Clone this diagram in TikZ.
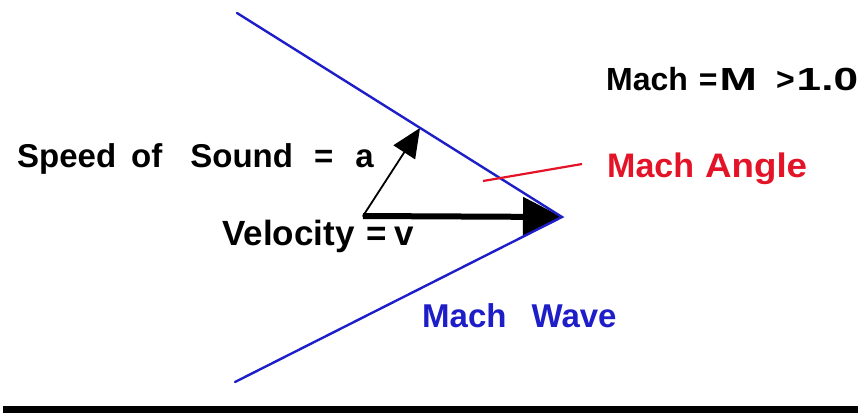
\documentclass[tikz,border=0pt]{standalone}
\usepackage{fontspec}
\usepackage{graphicx}
\setmainfont{Liberation Sans}
\usetikzlibrary{arrows.meta}
\definecolor{wavecol}{RGB}{30,30,200}
\definecolor{anglecol}{RGB}{228,20,40}
\begin{document}
\begin{tikzpicture}[x=1pt,y=-1pt,
  lbl/.style={anchor=base west,inner sep=0pt,font=\bfseries\fontsize{33}{36}\selectfont},
  wave/.style={wavecol,line width=2.4pt,line cap=round},
  velarrow/.style={black,line width=6pt,-{Triangle[length=39pt,width=40pt,line width=0pt]}},
  sndarrow/.style={black,line width=1.8pt,line cap=round,-{Triangle[length=29pt,width=26pt,line width=0pt]}},
  angleline/.style={anglecol,line width=2.2pt}]
\useasboundingbox (0,0) rectangle (858,413);
\fill[white] (0,0) rectangle (858,413);
% coordinates
\coordinate (O) at (363,216);
\coordinate (V) at (562,217);
\coordinate (A) at (420,128);
\coordinate (W1) at (237,13);
\coordinate (W2) at (235,382);
\coordinate (R1) at (483,181);
\coordinate (R2) at (582,164);
% vectors
\draw[velarrow] (O) -- (V);
\draw[sndarrow] (O) -- (A);
% mach wave
\draw[wave] (W1) -- (V) -- (W2);
% mach angle pointer
\draw[angleline] (R1) -- (R2);
% labels
\node[lbl] (speed) at (17,167) {Speed\hspace{15pt}of\hspace{28pt}Sound\hspace{21pt}=\hspace{22pt}a};
\node[lbl,font=\bfseries\fontsize{35}{38}\selectfont] (vel) at (222,245) {Velocity\hspace{12pt}=\hspace{8pt}v};
\node[lbl,font=\bfseries\fontsize{32}{36}\selectfont] (mach) at (606,90) {Mach\hspace{11pt}=\hspace{2pt}\scalebox{1.4}[1]{M}\hspace{19pt}>\hspace{2pt}\scalebox{1.38}[1]{1.0}};
\node[lbl,anglecol,font=\bfseries\fontsize{34}{36}\selectfont] (angle) at (607,177) {Mach\hspace{11pt}\scalebox{1.08}[1]{Angle}};
\node[lbl,wavecol] (wavelbl) at (422,327) {Mach\hspace{25pt}Wave};
% bottom bar
\fill[black] (3,406) rectangle (858,413);
\end{tikzpicture}
\end{document}
